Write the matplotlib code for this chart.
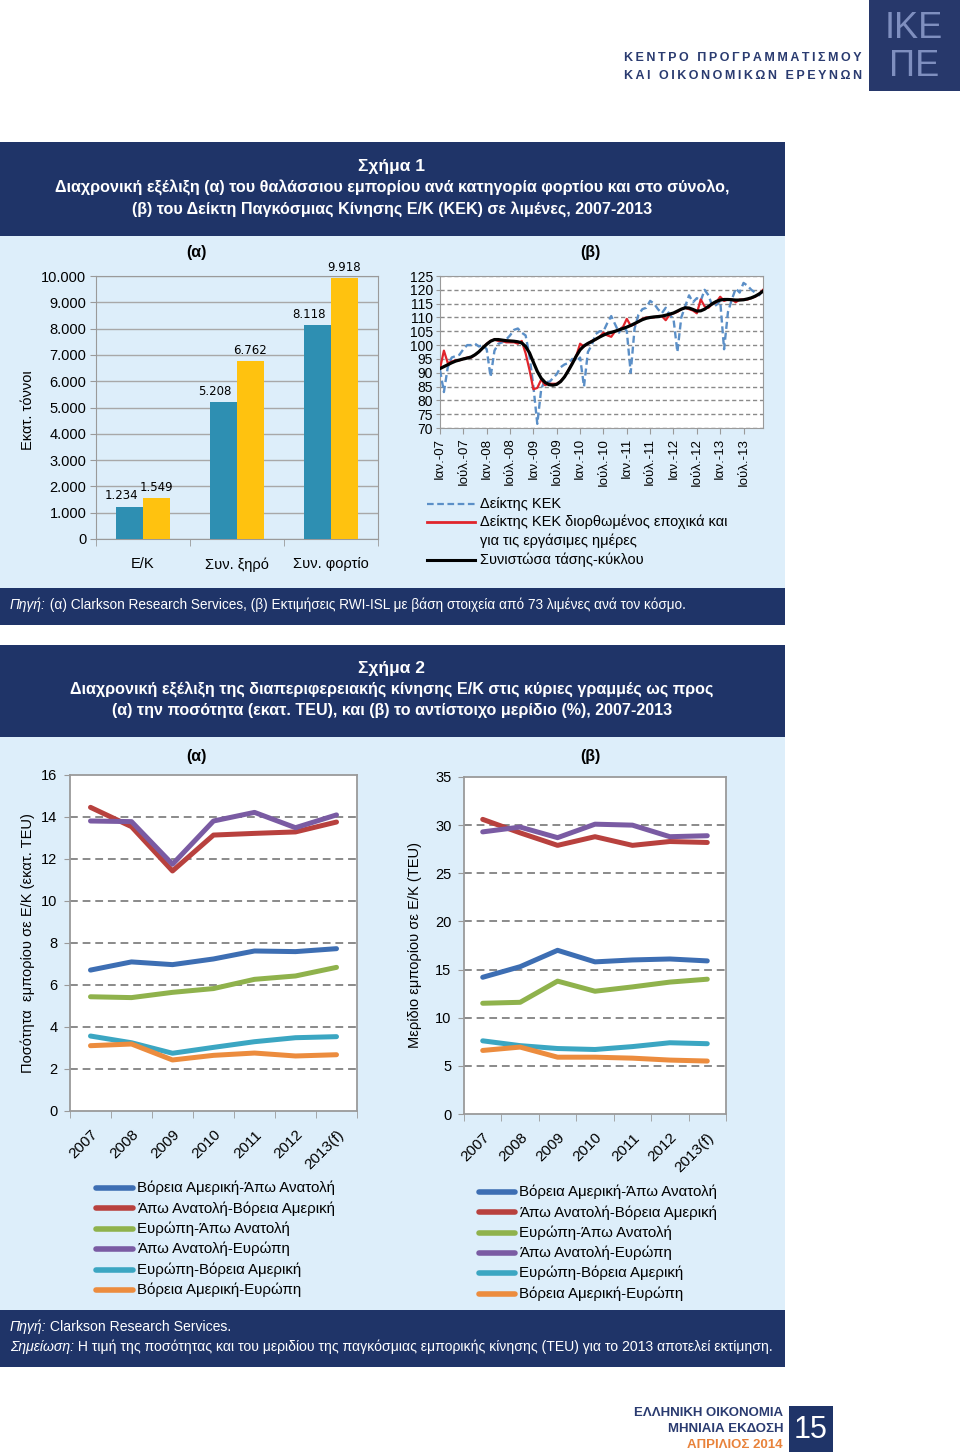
import numpy as np
import matplotlib
matplotlib.use("Agg")
import matplotlib.pyplot as plt
from matplotlib import font_manager
from matplotlib.patches import Rectangle

# ---- data: Σχήμα 1 (α)
cargo_cats = ["Ε/Κ", "Συν. ξηρό", "Συν. φορτίο"]
tons_2007 = [1234, 5208, 8118]
tons_2013 = [1549, 6762, 9918]

# ---- data: Σχήμα 1 (β), μηνιαία Ιαν.-07 ... Δεκ.-13
kek_raw = [91.0, 83.0, 92.0, 95.5, 96.0, 96.5, 98.5, 100.0, 100.0, 100.5, 99.5, 100.0,
           98.5, 88.5, 98.0, 100.5, 101.0, 102.0, 103.5, 105.5, 106.0, 104.5, 103.5, 96.0,
           85.0, 71.5, 84.0, 87.5, 86.5, 88.0, 89.5, 92.0, 93.0, 93.5, 95.0, 94.0,
           95.5, 85.0, 97.5, 100.0, 104.0, 105.0, 105.0, 108.0, 110.5, 107.5, 104.5, 107.0,
           105.0, 90.0, 106.0, 111.0, 113.0, 113.5, 116.0, 115.0, 113.0, 111.5, 113.5, 111.0,
           109.5, 97.5, 110.0, 114.0, 118.0, 115.5, 117.0, 116.0, 120.0, 118.0, 114.0, 114.5,
           116.0, 98.5, 112.0, 116.5, 120.5, 119.0, 122.5, 121.5, 120.0, 119.0, 118.0, 120.0]
kek_sa = [91.5, 98.0, 93.5, 94.0, 94.5, 94.5, 95.0, 95.5, 95.5, 96.5, 97.5, 99.0,
          100.5, 101.5, 102.0, 101.5, 101.5, 101.0, 101.0, 101.0, 100.5, 101.5, 97.0, 91.0,
          84.0, 84.5, 87.5, 85.5, 86.0, 86.0, 86.0, 87.0, 88.5, 91.0, 93.5, 96.0,
          100.5, 99.5, 100.5, 101.5, 102.0, 103.0, 104.5, 103.5, 103.0, 105.0, 105.5, 106.5,
          109.5, 107.0, 107.5, 108.5, 109.5, 110.0, 110.0, 110.0, 110.5, 110.5, 109.0, 111.0,
          111.5, 112.0, 113.0, 113.5, 113.0, 112.5, 111.5, 116.5, 114.0, 113.5, 115.0, 115.5,
          117.5, 116.0, 116.5, 116.5, 115.5, 116.5, 116.5, 116.5, 117.0, 117.5, 118.5, 120.0]
kek_trend = [91.5, 92.2, 92.9, 93.6, 94.2, 94.6, 95.0, 95.3, 95.7, 96.5, 97.6, 99.0,
             100.3, 101.4, 102.0, 102.0, 101.8, 101.6, 101.5, 101.4, 101.2, 100.8, 99.5, 97.2,
             93.8, 90.5, 88.0, 86.5, 85.7, 85.5, 85.8, 86.8, 88.5, 90.8, 93.3, 96.0,
             98.3, 99.7, 100.6, 101.3, 102.1, 102.9, 103.6, 104.2, 104.6, 105.0, 105.5, 106.0,
             106.5, 107.1, 107.8, 108.5, 109.2, 109.7, 110.0, 110.2, 110.3, 110.5, 110.8, 111.2,
             111.6, 112.3, 113.0, 113.5, 113.4, 112.9, 112.3, 112.4, 113.0, 114.0, 115.0, 115.8,
             116.3, 116.5, 116.5, 116.4, 116.3, 116.3, 116.4, 116.7, 117.1, 117.7, 118.5, 119.5]
month_labels = ["Ιαν.-07", "Ιούλ.-07", "Ιαν.-08", "Ιούλ.-08", "Ιαν.-09", "Ιούλ.-09", "Ιαν.-10",
                "Ιούλ.-10", "Ιαν.-11", "Ιούλ.-11", "Ιαν.-12", "Ιούλ.-12", "Ιαν.-13", "Ιούλ.-13"]

# ---- data: Σχήμα 2
years = ["2007", "2008", "2009", "2010", "2011", "2012", "2013(f)"]
routes = ["Βόρεια Αμερική-Άπω Ανατολή", "Άπω Ανατολή-Βόρεια Αμερική", "Ευρώπη-Άπω Ανατολή",
          "Άπω Ανατολή-Ευρώπη", "Ευρώπη-Βόρεια Αμερική", "Βόρεια Αμερική-Ευρώπη"]
teu_na_fe = [6.71, 7.10, 6.97, 7.24, 7.62, 7.59, 7.73]
teu_fe_na = [14.46, 13.54, 11.43, 13.14, 13.22, 13.29, 13.76]
teu_eu_fe = [5.44, 5.40, 5.65, 5.83, 6.27, 6.43, 6.84]
teu_fe_eu = [13.81, 13.78, 11.75, 13.81, 14.22, 13.49, 14.10]
teu_eu_na = [3.57, 3.25, 2.75, 3.03, 3.30, 3.49, 3.54]
teu_na_eu = [3.11, 3.19, 2.43, 2.65, 2.76, 2.62, 2.68]
share_na_fe = [14.2, 15.3, 17.0, 15.8, 16.0, 16.1, 15.9]
share_fe_na = [30.6, 29.2, 27.9, 28.8, 27.9, 28.3, 28.2]
share_eu_fe = [11.5, 11.6, 13.8, 12.75, 13.2, 13.7, 14.0]
share_fe_eu = [29.3, 29.8, 28.7, 30.1, 30.0, 28.8, 28.9]
share_eu_na = [7.6, 7.1, 6.8, 6.7, 7.0, 7.4, 7.3]
share_na_eu = [6.6, 6.95, 5.9, 5.9, 5.8, 5.6, 5.5]
route_colors = ["#3d6eb3", "#b8413e", "#8fb24c", "#7a5ba3", "#3ba6c2", "#ec8c3e"]

W, H = 960, 1454
names = {f.name for f in font_manager.fontManager.ttflist}
NARROW = "Liberation Sans Narrow" if "Liberation Sans Narrow" in names else "Liberation Sans"
plt.rcParams["font.family"] = ["Liberation Sans", "DejaVu Sans"]

NAVY = "#1f3468"
PANEL = "#ddeefa"
GRID = "#8a8a8a"
SPINE = "#9a9a9a"

fig = plt.figure(figsize=(W / 100, H / 100), dpi=100)
bg = fig.add_axes([0, 0, 1, 1])
bg.set_xlim(0, W)
bg.set_ylim(H, 0)
bg.axis("off")


def box(x0, y0, x1, y1, color):
    bg.add_patch(Rectangle((x0, y0), x1 - x0, y1 - y0, color=color, lw=0))


def add_ax(x0, y0, x1, y1):
    return fig.add_axes([x0 / W, 1 - y1 / H, (x1 - x0) / W, (y1 - y0) / H])


def rich(x, y, parts, size, family):
    r = fig.canvas.get_renderer()
    for txt, style in parts:
        t = bg.text(x, y, txt, fontsize=size, family=family, style=style,
                    color="white", va="center", ha="left")
        x += t.get_window_extent(renderer=r).width


def spaced(s):
    return "\u2009".join(s)


# ---- κεφαλίδα
box(869, 0, 960, 91, "#27386b")
bg.text(914, 28, "ΙΚΕ", fontsize=26, family=NARROW, color="#7f8fbf", ha="center", va="center")
bg.text(914, 66, "ΠΕ", fontsize=26, family=NARROW, color="#7f8fbf", ha="center", va="center")
bg.text(862, 58, spaced("ΚΕΝΤΡΟ ΠΡΟΓΡΑΜΜΑΤΙΣΜΟΥ"), fontsize=9, weight="bold",
        color="#2a3b70", ha="right", va="center")
bg.text(862, 76, spaced("ΚΑΙ ΟΙΚΟΝΟΜΙΚΩΝ ΕΡΕΥΝΩΝ"), fontsize=9, weight="bold",
        color="#2a3b70", ha="right", va="center")

# ---- Σχήμα 1 πλαίσια
box(0, 142, 785, 236, NAVY)
box(0, 236, 785, 588, PANEL)
box(0, 588, 785, 625, NAVY)
bg.text(392, 167, "Σχήμα 1", fontsize=12.5, weight="bold", family=NARROW, color="white",
        ha="center", va="center")
bg.text(392, 188, "Διαχρονική εξέλιξη (α) του θαλάσσιου εμπορίου ανά κατηγορία φορτίου και στο σύνολο,",
        fontsize=11.6, weight="bold", family=NARROW, color="white", ha="center", va="center")
bg.text(392, 209, "(β) του Δείκτη Παγκόσμιας Κίνησης Ε/Κ (ΚΕΚ) σε λιμένες, 2007-2013",
        fontsize=11.6, weight="bold", family=NARROW, color="white", ha="center", va="center")
rich(10, 605, [("Πηγή:", "italic"),
               (" (α) Clarkson Research Services, (β) Εκτιμήσεις RWI-ISL με βάση στοιχεία από 73 λιμένες ανά τον κόσμο.", "normal")],
     9.85, "Liberation Sans")

# ---- Σχήμα 1 (α)
ax1 = add_ax(96, 276, 378, 539)
x = np.arange(len(cargo_cats))
w = 0.285
ax1.bar(x - w / 2, tons_2007, w, color="#2e8fb2", zorder=3)
ax1.bar(x + w / 2, tons_2013, w, color="#ffc20f", zorder=3)
for i in range(len(cargo_cats)):
    ax1.text(x[i] - w / 2 - 0.09, tons_2007[i] + 170, f"{tons_2007[i]:,}".replace(",", "."),
             ha="center", va="bottom", fontsize=8.5, family="DejaVu Sans")
    ax1.text(x[i] + w / 2, tons_2013[i] + 170, f"{tons_2013[i]:,}".replace(",", "."),
             ha="center", va="bottom", fontsize=8.5, family="DejaVu Sans")
ax1.set_xlim(-0.5, 2.5)
ax1.set_ylim(0, 10000)
ax1.set_yticks(range(0, 10001, 1000))
ax1.set_yticklabels([f"{v:,}".replace(",", ".") for v in range(0, 10001, 1000)], fontsize=10.5)
ax1.set_xticks(x)
ax1.set_xticklabels(cargo_cats, fontsize=10.5)
ax1.set_xticks([-0.5, 0.5, 1.5, 2.5], minor=True)
ax1.tick_params(axis="x", which="major", length=0, pad=13)
ax1.tick_params(axis="x", which="minor", length=5, color=SPINE)
ax1.tick_params(axis="y", length=4, color=SPINE, pad=3)
ax1.yaxis.grid(True, color="#a8a8a8", lw=1)
ax1.set_axisbelow(True)
ax1.set_facecolor(PANEL)
for s in ax1.spines.values():
    s.set_color(SPINE)
bg.text(196, 252, "(α)", fontsize=11.5, weight="bold", ha="center", va="center")
bg.text(28, 410, "Εκατ. τόννοι", fontsize=10.5, rotation=90, ha="center", va="center")
box(112, 310, 121, 319, "#2e8fb2")
box(112, 337, 121, 346, "#ffc20f")
bg.text(125, 315, "2007", fontsize=10.5, va="center")
bg.text(125, 342, "2013", fontsize=10.5, va="center")

# ---- Σχήμα 1 (β)
ax2 = add_ax(440, 276, 763, 428)
months = np.arange(len(kek_trend))
ax2.plot(months, kek_raw, color="#5b8fc7", lw=1.7, ls=(0, (3, 1.6)), zorder=3)
ax2.plot(months, kek_sa, color="#e0242b", lw=1.6, zorder=4)
ax2.plot(months, kek_trend, color="black", lw=2.3, zorder=5)
ax2.set_xlim(0, 83)
ax2.set_ylim(70, 125)
ax2.set_yticks(range(70, 126, 5))
ax2.tick_params(axis="y", labelsize=10, length=3, color=SPINE, pad=2)
ax2.set_xticks(range(0, 84, 6))
ax2.set_xticklabels(month_labels, rotation=90, fontsize=9.5)
ax2.tick_params(axis="x", length=4, color=SPINE, pad=3)
ax2.yaxis.grid(True, color=GRID, lw=1, ls=(0, (3, 2)))
ax2.set_axisbelow(True)
for s in ax2.spines.values():
    s.set_color(SPINE)
bg.text(590, 252, "(β)", fontsize=11.5, weight="bold", ha="center", va="center")
bg.plot([427, 475], [504, 504], color="#5b8fc7", lw=1.6, ls=(0, (3, 1.6)))
bg.plot([427, 475], [522, 522], color="#e0242b", lw=2)
bg.plot([427, 475], [560, 560], color="black", lw=2.2)
bg.text(480, 504, "Δείκτης ΚΕΚ", fontsize=10.45, va="center")
bg.text(480, 522, "Δείκτης ΚΕΚ διορθωμένος εποχικά και", fontsize=10.45, va="center")
bg.text(480, 541, "για τις εργάσιμες ημέρες", fontsize=10.45, va="center")
bg.text(480, 560, "Συνιστώσα τάσης-κύκλου", fontsize=10.45, va="center")

# ---- Σχήμα 2 πλαίσια
box(0, 645, 785, 737, NAVY)
box(0, 737, 785, 1310, PANEL)
box(0, 1310, 785, 1367, NAVY)
bg.text(392, 668, "Σχήμα 2", fontsize=12.5, weight="bold", family=NARROW, color="white",
        ha="center", va="center")
bg.text(392, 690, "Διαχρονική εξέλιξη της διαπεριφερειακής κίνησης Ε/Κ στις κύριες γραμμές ως προς",
        fontsize=11.6, weight="bold", family=NARROW, color="white", ha="center", va="center")
bg.text(392, 711, "(α) την ποσότητα (εκατ. TEU), και (β) το αντίστοιχο μερίδιο (%), 2007-2013",
        fontsize=11.6, weight="bold", family=NARROW, color="white", ha="center", va="center")
rich(10, 1327, [("Πηγή:", "italic"), (" Clarkson Research Services.", "normal")], 10.05, NARROW)
rich(10, 1347, [("Σημείωση:", "italic"),
                (" Η τιμή της ποσότητας και του μεριδίου της παγκόσμιας εμπορικής κίνησης (TEU) για το 2013 αποτελεί εκτίμηση.", "normal")],
     10.05, NARROW)

teu_series = [teu_na_fe, teu_fe_na, teu_eu_fe, teu_fe_eu, teu_eu_na, teu_na_eu]
share_series = [share_na_fe, share_fe_na, share_eu_fe, share_fe_eu, share_eu_na, share_na_eu]


def route_panel(ax, series, ymax, ystep):
    xs = np.arange(len(years))
    for vals, c in zip(series, route_colors):
        ax.plot(xs, vals, color=c, lw=3.6, solid_capstyle="round", zorder=3)
    ax.set_xlim(-0.5, len(years) - 0.5)
    ax.set_ylim(0, ymax)
    ax.set_yticks(range(0, ymax + 1, ystep))
    ax.tick_params(axis="y", labelsize=10.5, length=4, color=SPINE, pad=5)
    ax.set_xticks(xs)
    ax.set_xticklabels(years, rotation=45, ha="right", rotation_mode="anchor", fontsize=11)
    ax.set_xticks(np.arange(-0.5, len(years)), minor=True)
    ax.tick_params(axis="x", which="major", length=0, pad=12)
    ax.tick_params(axis="x", which="minor", length=5, color=SPINE)
    for yv in range(ystep, ymax, ystep):
        ax.axhline(yv, color=GRID, lw=1.4, ls=(0, (4, 2.5)), zorder=1)
    for s in ax.spines.values():
        s.set_color(SPINE)
        s.set_linewidth(1.3)


ax3 = add_ax(70, 775, 357, 1111)
route_panel(ax3, teu_series, 16, 2)
ax4 = add_ax(464, 777, 726, 1114)
route_panel(ax4, share_series, 35, 5)
bg.text(196, 756, "(α)", fontsize=11.5, weight="bold", ha="center", va="center")
bg.text(590, 756, "(β)", fontsize=11.5, weight="bold", ha="center", va="center")
bg.text(28, 943, "Ποσότητα  εμπορίου σε Ε/Κ (εκατ. TEU)", fontsize=10.5, rotation=90,
        ha="center", va="center")
bg.text(415, 945, "Μερίδιο εμπορίου σε Ε/Κ (TEU)", fontsize=10.5, rotation=90,
        ha="center", va="center")

for i, (name, c) in enumerate(zip(routes, route_colors)):
    yl = 1188 + i * 20.4
    yr = 1192 + i * 20.3
    bg.plot([96, 133], [yl, yl], color=c, lw=4, solid_capstyle="round")
    bg.text(137, yl, name, fontsize=10.8, family=NARROW, va="center")
    bg.plot([479, 515], [yr, yr], color=c, lw=4, solid_capstyle="round")
    bg.text(519, yr, name, fontsize=10.8, family=NARROW, va="center")

# ---- υποσέλιδο
bg.text(783, 1413, "ΕΛΛΗΝΙΚΗ ΟΙΚΟΝΟΜΙΑ", fontsize=9.5, weight="bold", color="#2a3b70",
        ha="right", va="center")
bg.text(783, 1429, "ΜΗΝΙΑΙΑ ΕΚΔΟΣΗ", fontsize=9.5, weight="bold", color="#2a3b70",
        ha="right", va="center")
bg.text(783, 1445, "ΑΠΡΙΛΙΟΣ 2014", fontsize=9.5, weight="bold", color="#e8823a",
        ha="right", va="center")
box(789, 1406, 833, 1452, NAVY)
bg.text(811, 1430, "15", fontsize=22, family=NARROW, color="white", ha="center", va="center")

fig.savefig("out.png", dpi=100)
